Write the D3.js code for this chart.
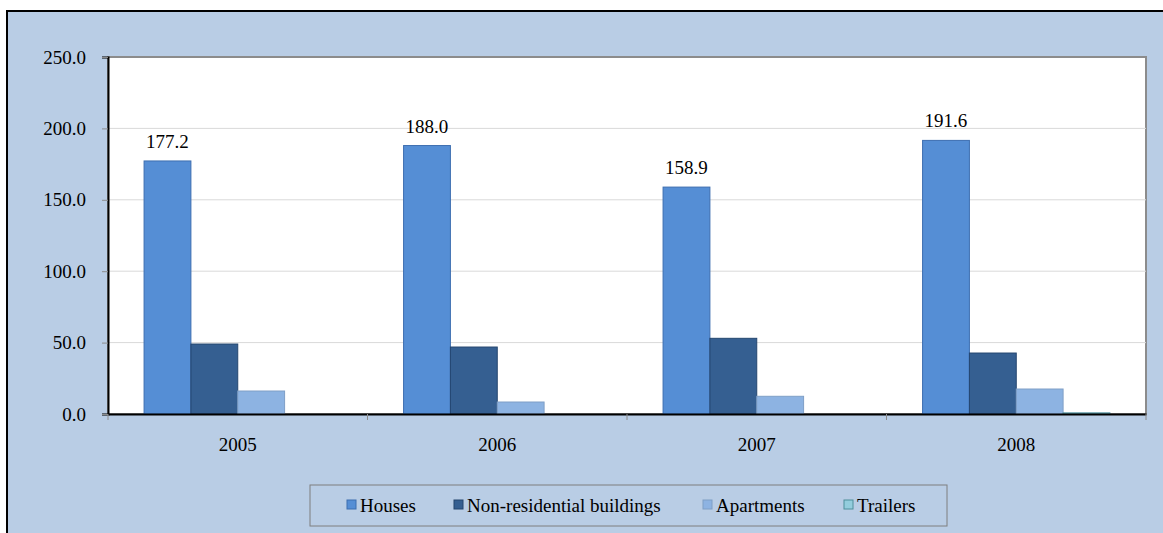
<!DOCTYPE html>
<html>
<head>
<meta charset="utf-8">
<script src="https://cdn.jsdelivr.net/npm/d3@7"></script>
<style>
  body { margin: 0; background: #fff; }
  svg { display: block; }
  svg text { font-family: "Liberation Serif", "Times New Roman", serif; }
</style>
</head>
<body>
<div id="chart"></div>
<script>
var years = ["2005", "2006", "2007", "2008"];
var seriesNames = ["Houses", "Non-residential buildings", "Apartments", "Trailers"];
var houses = [177.2, 188.0, 158.9, 191.6];
var nonResidential = [49.0, 46.9, 53.0, 42.7];
var apartments = [16.1, 8.4, 12.4, 17.5];
var trailers = [0, 0, 0, 0.8];
var yTicks = [0, 50, 100, 150, 200, 250];

var fills = ["#558ed5", "#355f91", "#8db3e2", "#93cddd"];
var strokes = ["#3d6eb0", "#24466f", "#7f9fc6", "#4f8f9c"];
var FONT = 19;

function draw_chart() {
    var W = 1163, H = 533;
    var margin = { top: 57, right: 17, bottom: 119, left: 108 };
    var width = W - margin.left - margin.right;
    var height = H - margin.top - margin.bottom;

    var svg = d3.select("#chart").append("svg")
        .attr("width", W)
        .attr("height", H);

    // outer frame
    svg.append("rect")
        .attr("x", 7).attr("y", 11)
        .attr("width", W + 10).attr("height", H + 10)
        .attr("fill", "#b9cde5")
        .attr("stroke", "#000")
        .attr("stroke-width", 2);

    var g = svg.append("g")
        .attr("transform", "translate(" + margin.left + "," + margin.top + ")");

    g.append("rect")
        .attr("width", width).attr("height", height)
        .attr("fill", "#fff")
        .attr("stroke", "#8c8c8c")
        .attr("stroke-width", 2);

    var data = years.map(function(y, i) {
        return { year: y, values: [houses[i], nonResidential[i], apartments[i], trailers[i]] };
    });

    var x = d3.scaleBand().domain(years).range([0, width]).paddingInner(0).paddingOuter(0);
    var x1 = d3.scaleBand().domain(d3.range(seriesNames.length))
        .range([0, x.bandwidth()]).paddingOuter(0.77).paddingInner(0);
    var y = d3.scaleLinear().domain([0, 250]).range([height, 0]);

    // gridlines
    g.append("g").selectAll("line")
        .data(yTicks.filter(function(t) { return t > 0 && t < 250; }))
        .enter().append("line")
        .attr("x1", 0).attr("x2", width)
        .attr("y1", function(d) { return y(d); })
        .attr("y2", function(d) { return y(d); })
        .attr("stroke", "#d9d9d9");

    // bars
    var groups = g.append("g").selectAll("g")
        .data(data)
        .enter().append("g")
        .attr("transform", function(d) { return "translate(" + x(d.year) + ",0)"; });

    groups.selectAll("rect")
        .data(function(d) {
            return d.values.map(function(v, i) { return { i: i, v: v }; })
                .filter(function(e) { return e.v > 0; });
        })
        .enter().append("rect")
        .attr("x", function(d) { return x1(d.i); })
        .attr("y", function(d) { return y(d.v); })
        .attr("width", x1.bandwidth())
        .attr("height", function(d) { return Math.max(1, y(0) - y(d.v)); })
        .attr("fill", function(d) { return fills[d.i]; })
        .attr("stroke", function(d) { return strokes[d.i]; })
        .attr("stroke-width", 1);

    // data labels on houses
    groups.append("text")
        .attr("x", function(d) { return x1(0) + x1.bandwidth() / 2; })
        .attr("y", function(d) { return y(d.values[0]) - 13; })
        .attr("text-anchor", "middle")
        .attr("font-size", FONT)
        .attr("fill", "#000")
        .text(function(d) { return d.values[0].toFixed(1); });

    // y axis
    var yAxis = g.append("g")
        .call(d3.axisLeft(y).tickValues(yTicks).tickSize(6).tickPadding(16)
            .tickFormat(function(d) { return d.toFixed(1); }));
    yAxis.attr("font-family", null);
    yAxis.select(".domain").attr("stroke", "#000").attr("stroke-width", 2);
    yAxis.selectAll(".tick line").attr("stroke", "#8c8c8c");
    yAxis.selectAll("text").attr("font-size", FONT).attr("fill", "#000");

    // x axis
    var xAxis = g.append("g")
        .attr("transform", "translate(0," + height + ")")
        .call(d3.axisBottom(x).tickSize(0).tickPadding(24));
    xAxis.attr("font-family", null);
    xAxis.select(".domain").attr("stroke", "#000").attr("stroke-width", 2);
    xAxis.selectAll("text").attr("font-size", FONT).attr("fill", "#000");

    g.append("g").selectAll("line")
        .data(d3.range(years.length + 1))
        .enter().append("line")
        .attr("x1", function(i) { return i * x.step(); })
        .attr("x2", function(i) { return i * x.step(); })
        .attr("y1", height).attr("y2", height + 6)
        .attr("stroke", "#8c8c8c");

    // legend
    var legend = svg.append("g").attr("transform", "translate(310,485)");
    legend.append("rect")
        .attr("width", 637).attr("height", 41)
        .attr("fill", "#b9cde5")
        .attr("stroke", "#7f7f7f");
    var legendX = [37, 144, 393, 534];
    var items = legend.selectAll("g.item")
        .data(seriesNames)
        .enter().append("g")
        .attr("class", "item")
        .attr("transform", function(d, i) { return "translate(" + legendX[i] + ",0)"; });
    items.append("rect")
        .attr("x", 0).attr("y", 15)
        .attr("width", 9).attr("height", 9)
        .attr("fill", function(d, i) { return fills[i]; })
        .attr("stroke", function(d, i) { return strokes[i]; });
    items.append("text")
        .attr("x", 13).attr("y", 27)
        .attr("font-size", FONT)
        .attr("fill", "#000")
        .text(function(d) { return d; });
}

draw_chart();
</script>
</body>
</html>
